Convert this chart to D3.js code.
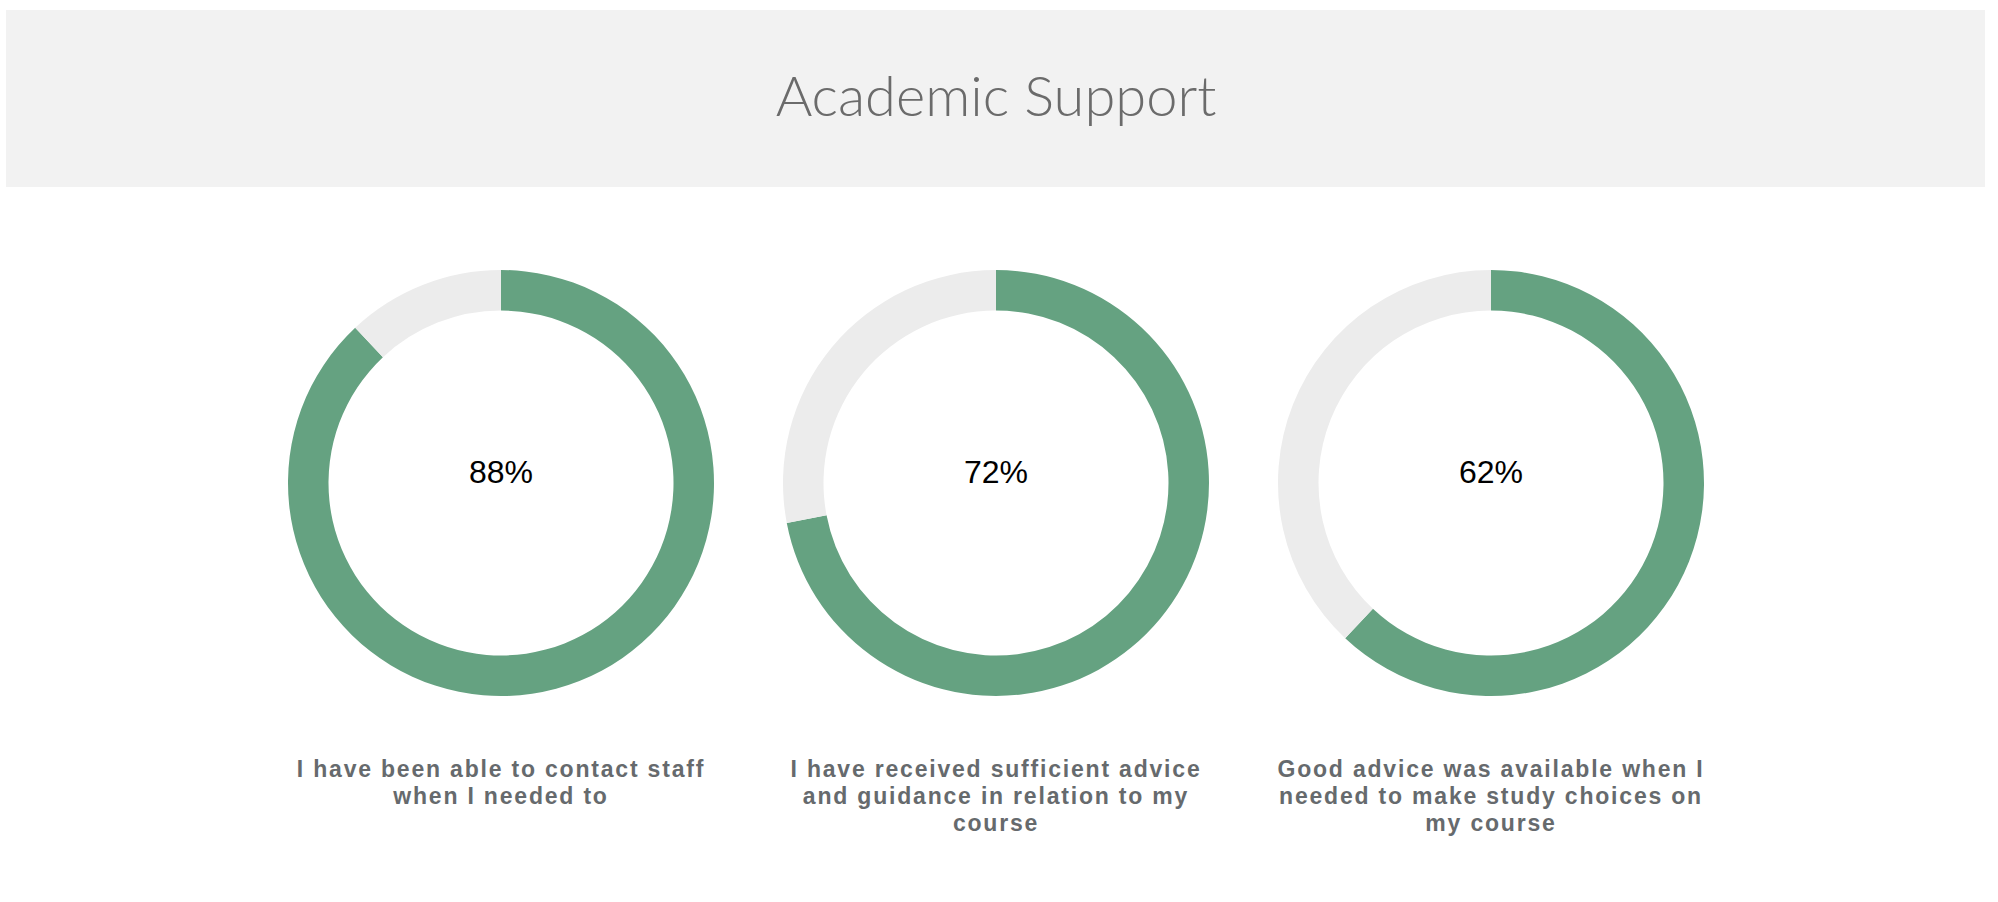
<!DOCTYPE html>
<html>
<head>
<meta charset="utf-8">
<script src="https://cdn.jsdelivr.net/npm/d3@7"></script>
<style>
  html, body { margin: 0; padding: 0; background: #ffffff; }
  svg { display: block; }
</style>
</head>
<body>
<svg id="chart" width="1998" height="902"></svg>
<script>
const title = "Academic Support";
const categories = [
  ["I have been able to contact staff", "when I needed to"],
  ["I have received sufficient advice", "and guidance in relation to my", "course"],
  ["Good advice was available when I", "needed to make study choices on", "my course"]
];
const values = [88, 72, 62];
const valueLabels = ["88%", "72%", "62%"];

const W = 1998, H = 902;
const svg = d3.select("#chart");

// Header
svg.append("rect").attr("x", 6).attr("y", 10).attr("width", 1979).attr("height", 177).attr("fill", "#f2f2f2");
svg.append("text").attr("x", 996).attr("y", 116)
  .attr("text-anchor", "middle")
  .attr("font-family", "Lato, 'Open Sans', sans-serif")
  .attr("font-weight", 300)
  .attr("font-size", 56)
  .attr("fill", "#6b6b6b")
  .text(title);

const x = d3.scalePoint().domain(d3.range(values.length)).range([501, 1491]);
const cy = 483;
const outerR = 213, innerR = 172.5;

const arc = d3.arc().innerRadius(innerR).outerRadius(outerR);
const pie = d3.pie().sort(null).value(d => d);

values.forEach((v, i) => {
  const g = svg.append("g").attr("transform", `translate(${x(i)},${cy})`);
  const data = pie([v, 100 - v]);
  g.selectAll("path").data(data).join("path")
    .attr("d", arc)
    .attr("fill", (d, j) => j === 0 ? "#65a281" : "#ececec");
  g.append("text")
    .attr("x", 0).attr("y", 0)
    .attr("text-anchor", "middle")
    .attr("font-family", "'Liberation Sans', Arial, sans-serif")
    .attr("font-size", 32)
    .attr("fill", "#000")
    .text(valueLabels[i]);

  const t = svg.append("text")
    .attr("text-anchor", "middle")
    .attr("font-family", "'Liberation Sans', Arial, sans-serif")
    .attr("font-weight", 700)
    .attr("font-size", 23)
    .attr("letter-spacing", 1.8)
    .attr("fill", "#666a6d");
  categories[i].forEach((line, k) => {
    t.append("tspan").attr("x", x(i)).attr("y", 777 + k * 27).text(line);
  });
});
</script>
</body>
</html>
